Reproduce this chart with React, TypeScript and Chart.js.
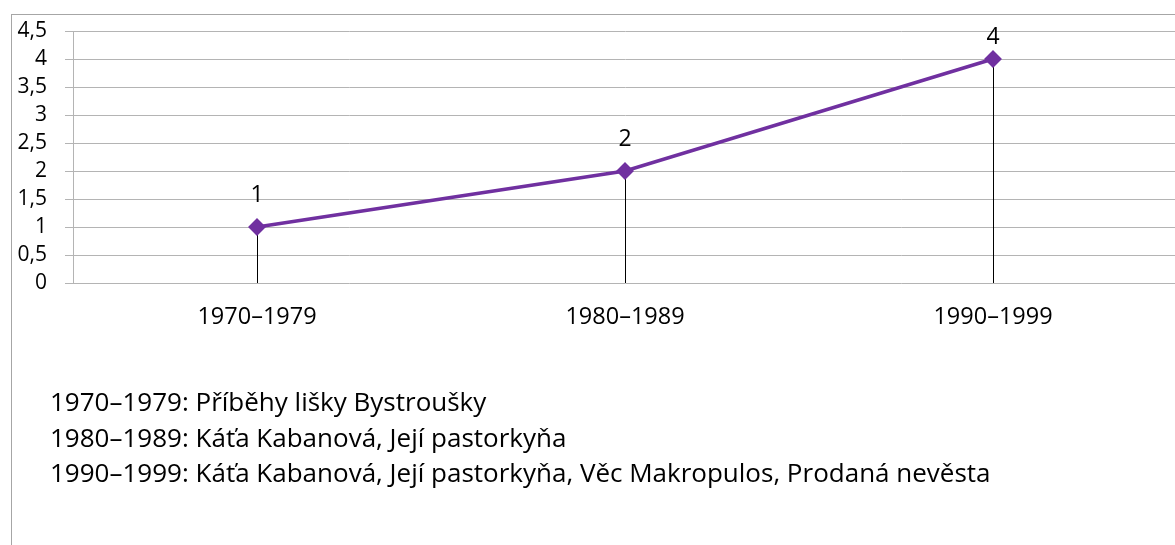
import React, { useEffect, useRef } from "react";
import { Chart, registerables } from "chart.js";

Chart.register(...registerables);

const categories = ["1970–1979", "1980–1989", "1990–1999"];
const operaCounts = [1, 2, 4];
const yTicks = [0, 0.5, 1, 1.5, 2, 2.5, 3, 3.5, 4, 4.5];
const noteLines = [
  "1970–1979: Příběhy lišky Bystroušky",
  "1980–1989: Káťa Kabanová, Její pastorkyňa",
  "1990–1999: Káťa Kabanová, Její pastorkyňa, Věc Makropulos, Prodaná nevěsta",
];

const FONT = "'Open Sans', sans-serif";
const PURPLE = "#7030a0";
const GRID = "#b4b4b4";

export default function App() {
  const ref = useRef<HTMLCanvasElement | null>(null);

  useEffect(() => {
    document.body.style.margin = "0";
    document.body.style.overflow = "hidden";
    const canvas = ref.current;
    if (!canvas) return;

    const frame = {
      id: "frame",
      beforeDraw(chart: any) {
        const ctx = chart.ctx;
        ctx.save();
        ctx.fillStyle = "#ffffff";
        ctx.fillRect(0, 0, chart.width, chart.height);
        ctx.strokeStyle = "#a6a6a6";
        ctx.lineWidth = 1;
        ctx.strokeRect(11.5, 14.5, 2000, 2000);
        ctx.restore();
      },
    };

    const dropLines = {
      id: "dropLines",
      beforeDatasetsDraw(chart: any) {
        const ctx = chart.ctx;
        const meta = chart.getDatasetMeta(0);
        const y0 = chart.scales.y.getPixelForValue(0);
        ctx.save();
        ctx.strokeStyle = "#000000";
        ctx.lineWidth = 1;
        meta.data.forEach((pt: any) => {
          const x = Math.round(pt.x) + 0.5;
          ctx.beginPath();
          ctx.moveTo(x, pt.y);
          ctx.lineTo(x, y0);
          ctx.stroke();
        });
        ctx.restore();
      },
    };

    const labelsAndNotes = {
      id: "labelsAndNotes",
      afterDatasetsDraw(chart: any) {
        const ctx = chart.ctx;
        const meta = chart.getDatasetMeta(0);
        ctx.save();
        ctx.fillStyle = "#000000";
        ctx.font = `23px ${FONT}`;
        ctx.textAlign = "center";
        ctx.textBaseline = "alphabetic";
        meta.data.forEach((pt: any, i: number) => {
          const base = Math.max(pt.y - 25, chart.chartArea.top + 13);
          ctx.fillText(String(operaCounts[i]), pt.x, base);
        });
        ctx.font = `26px ${FONT}`;
        ctx.textAlign = "left";
        noteLines.forEach((line, i) => {
          ctx.fillText(line, 50, 411 + i * 35.5);
        });
        ctx.restore();
      },
    };

    const chart = new Chart(canvas, {
      type: "line",
      data: {
        labels: categories,
        datasets: [
          {
            data: operaCounts,
            borderColor: PURPLE,
            backgroundColor: PURPLE,
            borderWidth: 3.5,
            pointStyle: "rectRot",
            pointRadius: 6.5,
            pointHoverRadius: 6.5,
            pointBackgroundColor: PURPLE,
            pointBorderColor: PURPLE,
            tension: 0,
          },
        ],
      },
      options: {
        animation: false,
        responsive: false,
        maintainAspectRatio: false,
        events: [],
        layout: { padding: { left: 0, top: 31, right: 23, bottom: 545 - 283 - 50 } },
        plugins: {
          legend: { display: false },
          title: { display: false },
          tooltip: { enabled: false },
        },
        scales: {
          x: {
            type: "category",
            offset: true,
            grid: { display: false, drawTicks: false },
            border: { display: false },
            ticks: {
              color: "#000000",
              font: { family: FONT, size: 23.5 },
              padding: 20,
              maxRotation: 0,
              autoSkip: false,
            },
            afterFit(scale: any) {
              scale.height = 50;
            },
          },
          y: {
            min: 0,
            max: 4.5,
            afterBuildTicks(scale: any) {
              scale.ticks = yTicks.map((v) => ({ value: v }));
            },
            grid: { color: GRID, lineWidth: 1, drawTicks: true, tickLength: 8 },
            border: { display: true, color: GRID, width: 1 },
            ticks: {
              color: "#000000",
              font: { family: FONT, size: 21 },
              padding: 18,
              autoSkip: false,
              callback: (v: any) => String(v).replace(".", ","),
            },
            afterFit(scale: any) {
              scale.width = 73;
            },
          },
        },
      },
      plugins: [frame, dropLines, labelsAndNotes],
    });

    return () => chart.destroy();
  }, []);

  return (
    <div style={{ width: 1175, height: 545, overflow: "hidden", position: "relative" }}>
      <canvas ref={ref} width={1200} height={545} style={{ display: "block", width: 1200, height: 545 }} />
    </div>
  );
}
